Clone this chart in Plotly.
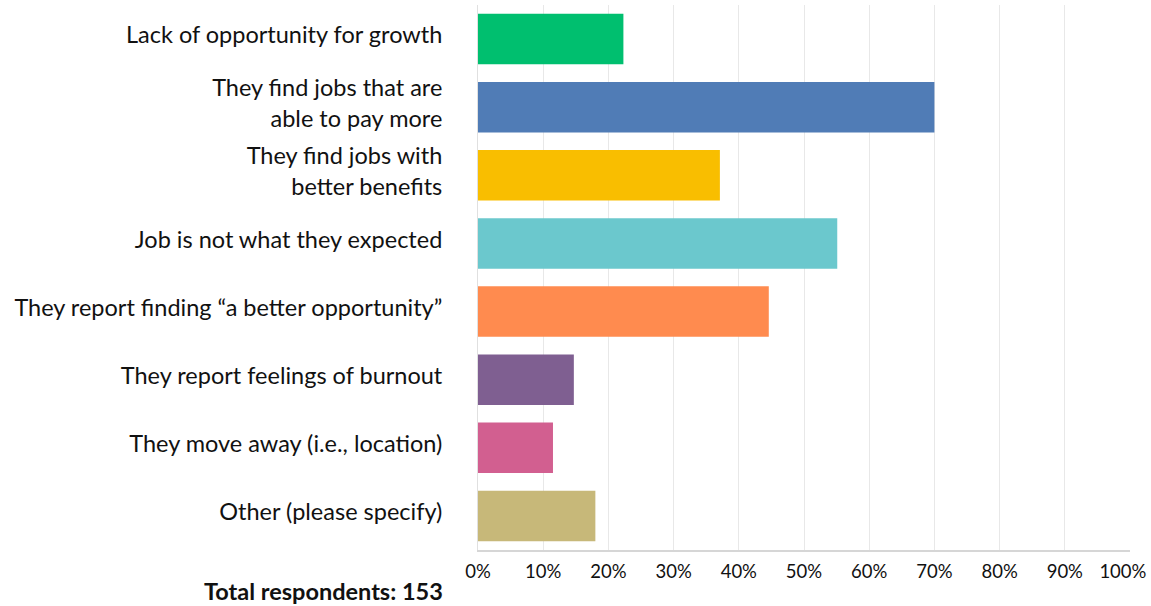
import plotly.graph_objects as go

categories = [
    "Lack of opportunity for growth",
    "They find jobs that are<br>able to pay more",
    "They find jobs with<br>better benefits",
    "Job is not what they expected",
    "They report finding “a better opportunity”",
    "They report feelings of burnout",
    "They move away (i.e., location)",
    "Other (please specify)",
]
values = [22.3, 70.0, 37.1, 55.1, 44.6, 14.7, 11.5, 18.0]
colors = ["#00BF6F", "#507CB6", "#F9BE00", "#6BC8CD", "#FF8B4F", "#7F5F91", "#D25F90", "#C7B879"]
tick_vals = [0, 10, 20, 30, 40, 50, 60, 70, 80, 90, 100]
tick_text = ["0%", "10%", "20%", "30%", "40%", "50%", "60%", "70%", "80%", "90%", "100%\u00a0\u00a0\u00a0"]
total_label = "Total respondents: 153"

font_family = "Lato, 'Open Sans', sans-serif"

fig = go.Figure(go.Bar(
    x=values,
    y=categories,
    orientation="h",
    marker=dict(color=colors, line=dict(width=0)),
    hoverinfo="x+y",
))

fig.update_layout(
    width=1151, height=606,
    margin=dict(l=478, r=21, t=5, b=56),
    paper_bgcolor="white", plot_bgcolor="white",
    bargap=0.26,
    showlegend=False,
    font=dict(family=font_family, color="#111111"),
    xaxis=dict(
        range=[0, 100], tickvals=tick_vals, ticktext=tick_text,
        showgrid=True, gridcolor="#e8e8e8", gridwidth=1,
        showline=True, linecolor="#d6d6d6", linewidth=2,
        zeroline=False, ticks="", ticklabelstandoff=4,
        ticklabeloverflow="allow", automargin=False,
        tickfont=dict(size=18.5, family=font_family, color="#111111"),
        fixedrange=True,
    ),
    yaxis=dict(
        autorange="reversed",
        showgrid=False, zeroline=False, automargin=False,
        showline=True, linecolor="#e0e0e0", linewidth=1,
        ticks="", ticklabelstandoff=30, ticklabelshift=4,
        tickfont=dict(size=23.5, family=font_family, color="#111111"),
        fixedrange=True,
    ),
    annotations=[dict(
        text=f"<b>{total_label}</b>", xref="paper", yref="paper",
        x=0, y=0, xanchor="right", yanchor="middle",
        xshift=-33, yshift=-41, showarrow=False,
        font=dict(size=23.5, family=font_family, color="#111111"),
    )],
)

fig.write_html("out.html")
